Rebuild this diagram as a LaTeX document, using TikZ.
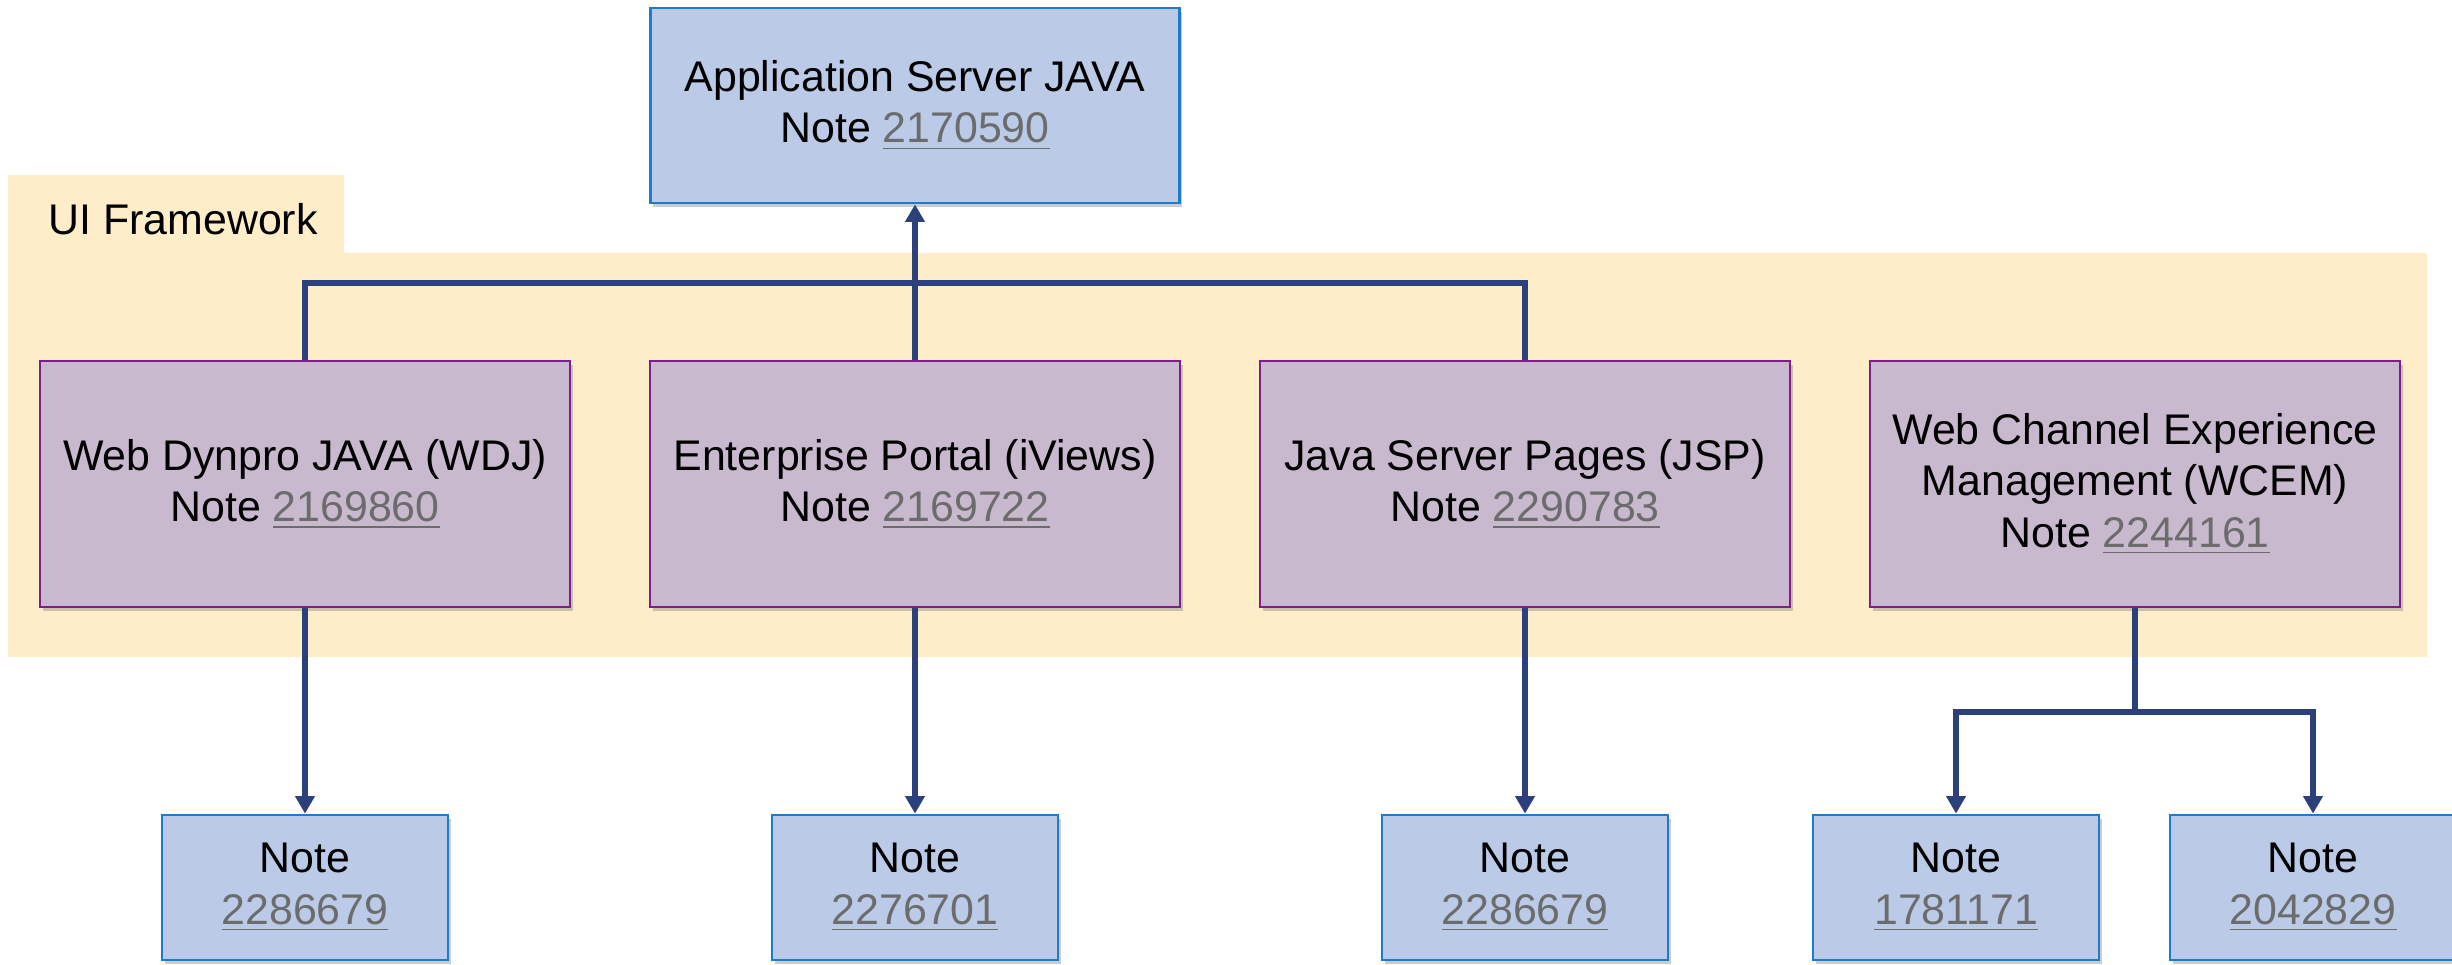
\documentclass[tikz,border=0pt]{standalone}
\usepackage{fontspec}
\setmainfont{Liberation Sans}
\usetikzlibrary{arrows.meta,shadows}
\definecolor{serverblue}{RGB}{187,202,231}
\definecolor{serverline}{RGB}{30,122,202}
\definecolor{uipurple}{RGB}{201,185,207}
\definecolor{uiline}{RGB}{125,30,140}
\definecolor{frameyellow}{RGB}{253,237,200}
\definecolor{connblue}{RGB}{44,64,124}
\definecolor{linkgray}{RGB}{108,108,108}
\newcommand{\notenum}[1]{\textcolor{linkgray}{\underline{#1}}}
\begin{document}
\begin{tikzpicture}[
    notebox/.style={rectangle, draw=serverline, line width=0.8pt, fill=serverblue, minimum width=2.86cm, minimum height=1.45cm, align=center,
        drop shadow={shadow xshift=0.8pt, shadow yshift=-1.2pt, opacity=0.4}},
    serverbox/.style={notebox, minimum width=5.29cm, minimum height=1.95cm},
    uibox/.style={rectangle, draw=uiline, line width=0.8pt, fill=uipurple, minimum width=5.3cm, minimum height=2.46cm, align=center,
        drop shadow={shadow xshift=0.8pt, shadow yshift=-1.2pt, opacity=0.4}},
    link/.style={draw=connblue, line width=1.7pt},
    arrow/.style={link, -{Triangle[width=5.4pt,length=5pt]}},
    every node/.style={font=\fontsize{12.2}{14.6}\selectfont}
]
\useasboundingbox (0,0) rectangle (24.52,9.64);
% UI framework area
\fill[frameyellow] (0.08,3.07) -- (0.08,7.89) -- (3.44,7.89) -- (3.44,7.11) -- (24.27,7.11) -- (24.27,3.07) -- cycle;
\node[anchor=west] (uiframe) at (0.36,7.45) {UI Framework};
% Application server
\node[serverbox] (appserver) at (9.15,8.585) {Application Server JAVA\\Note \notenum{2170590}};
% UI technologies
\node[uibox] (wdj) at (3.05,4.80) {Web Dynpro JAVA (WDJ)\\Note \notenum{2169860}};
\node[uibox] (portal) at (9.15,4.80) {Enterprise Portal (iViews)\\Note \notenum{2169722}};
\node[uibox] (jsp) at (15.25,4.80) {Java Server Pages (JSP)\\Note \notenum{2290783}};
\node[uibox] (wcem) at (21.35,4.80) {Web Channel Experience\\Management (WCEM)\\Note \notenum{2244161}};
% Notes
\node[notebox] (wdjnote) at (3.05,0.765) {Note\\\notenum{2286679}};
\node[notebox] (portalnote) at (9.15,0.765) {Note\\\notenum{2276701}};
\node[notebox] (jspnote) at (15.25,0.765) {Note\\\notenum{2286679}};
\node[notebox] (wcemnotea) at (19.56,0.765) {Note\\\notenum{1781171}};
\node[notebox] (wcemnoteb) at (23.13,0.765) {Note\\\notenum{2042829}};
\coordinate (bus) at (0,6.81);
\coordinate (split) at (21.35,2.52);
% Arrows
\draw[link] (wdj.north) -- (wdj.north |- bus) -- (jsp.north |- bus) -- (jsp.north);
\draw[arrow] (portal.north) -- (appserver.south);
\draw[arrow] (wdj.south) -- (wdjnote.north);
\draw[arrow] (portal.south) -- (portalnote.north);
\draw[arrow] (jsp.south) -- (jspnote.north);
\draw[link] (wcem.south) -- (split);
\draw[arrow] (split) -| (wcemnotea.north);
\draw[arrow] (split) -| (wcemnoteb.north);
\end{tikzpicture}
\end{document}
